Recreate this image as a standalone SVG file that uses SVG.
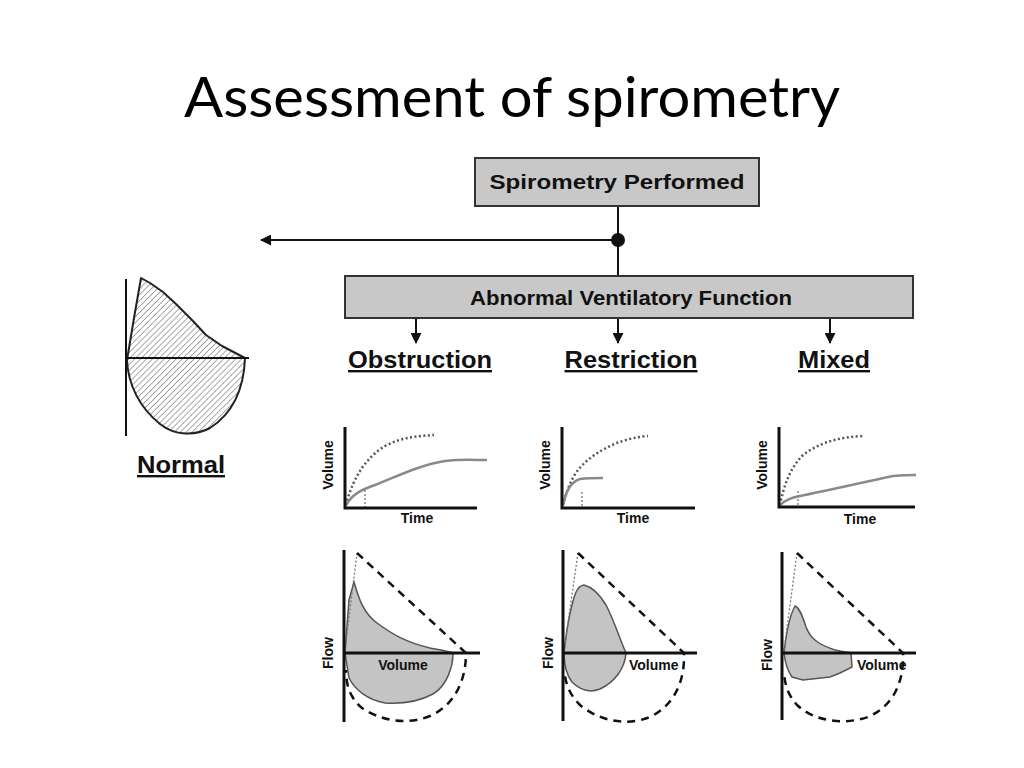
<svg xmlns="http://www.w3.org/2000/svg" width="1024" height="768" viewBox="0 0 1024 768">
<style>
.title{font-family:Lato,"Open Sans","Liberation Sans",sans-serif;font-size:56px;fill:#000}
.bx{fill:#c8c8c8;stroke:#333;stroke-width:2}
.bt{font-family:"Liberation Sans",Arial,sans-serif;font-weight:bold;fill:#111;text-anchor:middle}
.lbl{font-family:"Liberation Sans",Arial,sans-serif;font-weight:bold;font-size:24px;fill:#111;text-anchor:middle;text-decoration:underline}
.ax{font-family:"Liberation Sans",Arial,sans-serif;font-weight:bold;font-size:14px;fill:#111}
.axis{stroke:#111;stroke-width:3;fill:none}
.conn{stroke:#111;stroke-width:2;fill:none}
.dot{stroke:#555;stroke-width:2.5;stroke-dasharray:2 2.5;fill:none}
.fine{stroke:#777;stroke-width:1.3;stroke-dasharray:2 2;fill:none}
.solid{stroke:#8a8a8a;stroke-width:2.5;fill:none}
.dash{stroke:#111;stroke-width:2.5;stroke-dasharray:8 6;fill:none}
.loop{fill:#c4c4c4;stroke:#555;stroke-width:1.5}
</style>
<defs>
<marker id="ah" markerWidth="11" markerHeight="11" refX="10" refY="5.5" orient="auto" markerUnits="userSpaceOnUse">
<path d="M0,0 L11,5.5 L0,11 Z" fill="#111"/>
</marker>
<pattern id="hatch" width="4.2" height="10" patternUnits="userSpaceOnUse" patternTransform="rotate(45)">
<line x1="0" y1="0" x2="0" y2="10" stroke="#999" stroke-width="1.7"/>
</pattern>
</defs>
<rect width="1024" height="768" fill="#fff"/>
<text class="title" x="184" y="117" textLength="656" lengthAdjust="spacingAndGlyphs">Assessment of spirometry</text>

<g id="connectors">
<line class="conn" x1="618" y1="206" x2="618" y2="276"/>
<line class="conn" x1="618" y1="240" x2="261" y2="240" marker-end="url(#ah)"/>
<circle cx="618" cy="240" r="7" fill="#111"/>
<line class="conn" x1="416" y1="318" x2="416" y2="343" marker-end="url(#ah)"/>
<line class="conn" x1="618" y1="318" x2="618" y2="343" marker-end="url(#ah)"/>
<line class="conn" x1="830" y1="318" x2="830" y2="343" marker-end="url(#ah)"/>
</g>

<g id="spirometry-performed">
<rect class="bx" x="475" y="158" width="284" height="48"/>
<text class="bt" x="617" y="189" font-size="21" textLength="255" lengthAdjust="spacingAndGlyphs">Spirometry Performed</text>
</g>

<g id="abnormal">
<rect class="bx" x="345" y="276" width="568" height="42"/>
<text class="bt" x="631" y="305" font-size="20" font-weight="normal" textLength="322" lengthAdjust="spacingAndGlyphs">Abnormal Ventilatory Function</text>
</g>

<g id="normal">
<path d="M141,278 L150,283 L163,292 L176,304 L192,320 L206,335 L222,346 L245,358 C244,385 235,412 210,428 C195,436 175,436 160,424 C140,408 128,385 127,360 L134,318 Z" fill="url(#hatch)" stroke="#222" stroke-width="2" stroke-linejoin="round"/>
<line class="conn" x1="126" y1="279" x2="126" y2="436"/>
<line class="conn" x1="126" y1="358" x2="249" y2="358"/>
<text class="lbl" x="181" y="473" textLength="88" lengthAdjust="spacingAndGlyphs">Normal</text>
</g>

<g id="obstruction">
<text class="lbl" x="420" y="368" textLength="144" lengthAdjust="spacingAndGlyphs">Obstruction</text>
<path class="dot" d="M346,505 C352,480 365,458 385,446 C402,437 418,436 434,435"/>
<path class="solid" d="M346,505 C352,495 360,490 375,485 C398,476 420,465 445,461 C460,459 475,460 487,460"/>
<line class="fine" x1="365" y1="490" x2="365" y2="508"/>
<polyline class="axis" points="345,427 345,508 477,508"/>
<text class="ax" transform="translate(333,465) rotate(-90)" text-anchor="middle">Volume</text>
<text class="ax" x="417" y="523" text-anchor="middle">Time</text>

<path class="loop" d="M345,653 L349,600 L354,582 C358,595 362,612 377,623 C392,634 405,642 430,648 C440,650 448,651 453,653 C453,665 448,685 433,694 C418,702 400,704 385,703 C368,700 355,690 349,678 Z"/>
<line class="fine" x1="345" y1="650" x2="357" y2="553"/>
<path class="dash" d="M357,553 L466,653 C466,680 455,705 430,716 C405,726 380,720 362,708 C350,698 346,685 346,670"/>
<line class="axis" x1="344" y1="550" x2="344" y2="722"/>
<line class="axis" x1="344" y1="653" x2="480" y2="653"/>
<text class="ax" transform="translate(333,653) rotate(-90)" text-anchor="middle">Flow</text>
<text class="ax" x="403" y="670" text-anchor="middle">Volume</text>
</g>

<g id="restriction">
<text class="lbl" x="631" y="368" textLength="133" lengthAdjust="spacingAndGlyphs">Restriction</text>
<path class="dot" d="M563,505 C568,485 575,470 588,460 C605,446 625,438 648,436"/>
<path class="solid" d="M563,505 C566,492 570,482 580,479 C588,478 596,478 603,478"/>
<line class="fine" x1="582" y1="492" x2="582" y2="508"/>
<polyline class="axis" points="562,427 562,508 695,508"/>
<text class="ax" transform="translate(550,465) rotate(-90)" text-anchor="middle">Volume</text>
<text class="ax" x="633" y="523" text-anchor="middle">Time</text>

<path class="loop" d="M564,653 C566,635 568,620 572,605 C575,592 578,586 584,585 C592,587 600,595 606,605 C614,620 620,640 626,653 C625,668 615,682 600,689 C590,693 580,690 572,682 C566,674 564,664 564,653 Z"/>
<line class="fine" x1="564" y1="650" x2="578" y2="553"/>
<path class="dash" d="M578,553 L684,653 C685,680 675,705 650,717 C625,727 598,720 580,705 C570,695 566,685 565,675"/>
<line class="axis" x1="563" y1="550" x2="563" y2="721"/>
<line class="axis" x1="563" y1="653" x2="697" y2="653"/>
<text class="ax" transform="translate(553,653) rotate(-90)" text-anchor="middle">Flow</text>
<text class="ax" x="629" y="670">Volume</text>
</g>

<g id="mixed">
<text class="lbl" x="834" y="368" textLength="72" lengthAdjust="spacingAndGlyphs">Mixed</text>
<path class="dot" d="M780,505 C784,485 790,468 803,455 C820,442 840,437 863,436"/>
<path class="solid" d="M780,505 C786,500 790,498 800,496 C830,490 860,483 893,476 C903,475 910,475 916,475"/>
<line class="fine" x1="798" y1="491" x2="798" y2="507"/>
<polyline class="axis" points="779,427 779,507 915,507"/>
<text class="ax" transform="translate(767,465) rotate(-90)" text-anchor="middle">Volume</text>
<text class="ax" x="860" y="524" text-anchor="middle">Time</text>

<path class="loop" d="M784,653 C786,635 790,615 795,606 C800,608 803,618 806,627 C811,640 820,645 835,650 C842,652 847,652 851,653 L852,667 L840,673 L830,677 L803,680 L792,677 C787,670 785,662 784,653 Z"/>
<line class="fine" x1="784" y1="650" x2="797" y2="553"/>
<path class="dash" d="M797,553 L903,653 C904,680 895,705 868,717 C845,725 815,722 797,705 C788,695 785,685 784,673"/>
<line class="axis" x1="782" y1="552" x2="782" y2="720"/>
<line class="axis" x1="782" y1="653" x2="916" y2="653"/>
<text class="ax" transform="translate(772,655) rotate(-90)" text-anchor="middle">Flow</text>
<text class="ax" x="857" y="670">Volume</text>
</g>
</svg>
